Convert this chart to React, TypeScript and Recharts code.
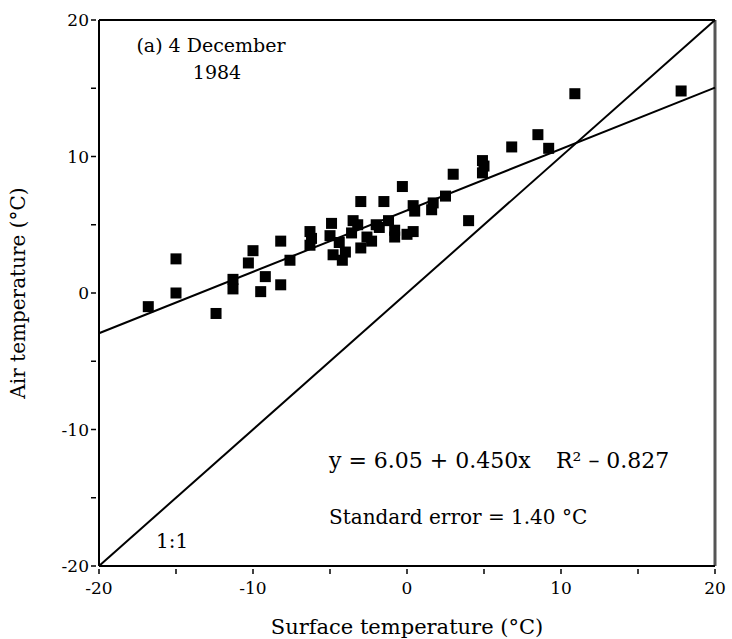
import {
    ScatterChart,
    Scatter,
    XAxis,
    YAxis,
    ReferenceLine,
    Label,
} from "recharts";

// surface temperature (x) vs air temperature (y), 4 December 1984
const surfaceTemp = [
    -16.8, -15.0, -15.0, -12.4, -11.3, -11.3, -10.3, -10.0, -9.5, -9.2,
    -8.2, -7.6, -8.2, -6.3, -6.3, -6.2, -4.9, -4.8, -4.4, -4.2,
    -3.6, -3.0, -3.2, -2.6, -3.0, -1.5, -1.2, -0.8, -0.8, -0.3,
    0.4, 0.5, 0.4, 1.7, 1.6, 2.5, 3.0, 4.0, 4.9, 4.9,
    5.0, 6.8, 8.5, 9.2, 10.9, 17.8, -4.0, -3.5, -2.0, -1.8,
    -2.3, -5.0, 0.0,
];
const airTemp = [
    -1.0, 2.5, 0.0, -1.5, 1.0, 0.3, 2.2, 3.1, 0.1, 1.2,
    0.6, 2.4, 3.8, 4.5, 3.5, 4.0, 5.1, 2.8, 3.7, 2.4,
    4.4, 6.7, 5.0, 4.1, 3.3, 6.7, 5.3, 4.1, 4.6, 7.8,
    6.4, 6.0, 4.5, 6.6, 6.1, 7.1, 8.7, 5.3, 9.7, 8.8,
    9.3, 10.7, 11.6, 10.6, 14.6, 14.8, 3.0, 5.3, 5.0, 4.8,
    3.8, 4.2, 4.3,
];

const oneToOneX = [-20, 20];
const oneToOneY = [-20, 20];
const fitX = [-20, 20];
const fitY = [-2.95, 15.05];

const axisTicks = [-20, -15, -10, -5, 0, 5, 10, 15, 20];

const points = surfaceTemp.map((x, i) => ({ x, y: airTemp[i] }));

const FONT = "'DejaVu Serif', 'Liberation Serif', serif";

function SquareDot(props: any) {
    const { cx, cy } = props;
    if (cx == null || cy == null) return null;
    return <rect x={cx - 5.5} y={cy - 5.5} width={11} height={11} fill="#000" />;
}

function XTick(props: any) {
    const { x, y, payload } = props;
    const v = payload.value;
    const major = v % 10 === 0;
    return (
        <g>
            <line x1={x} x2={x} y1={y} y2={y - 5} stroke="#000" strokeWidth={1.5} />
            {major && (
                <text x={x} y={y + 20} textAnchor="middle" fontFamily={FONT} fontSize={17} fill="#000">
                    {v}
                </text>
            )}
        </g>
    );
}

function YTick(props: any) {
    const { x, y, payload } = props;
    const v = payload.value;
    const major = v % 10 === 0;
    return (
        <g>
            <line x1={x} x2={x + 5} y1={y} y2={y} stroke="#000" strokeWidth={1.5} />
            {major && (
                <text x={x - 2} y={y + 6} textAnchor="end" fontFamily={FONT} fontSize={17} fill="#000">
                    {v}
                </text>
            )}
        </g>
    );
}

export default function App() {
    return (
        <div style={{ position: "absolute", left: 0, top: 0, width: 732, height: 639, background: "#fff" }}>
            <ScatterChart
                width={732}
                height={639}
                margin={{ top: 20, right: 17, left: 0, bottom: 0 }}
            >
                <XAxis
                    type="number"
                    dataKey="x"
                    domain={[-20, 20]}
                    ticks={axisTicks}
                    interval={0}
                    height={73}
                    tickLine={false}
                    tick={<XTick />}
                    axisLine={{ stroke: "#000", strokeWidth: 2 }}
                >
                    <Label
                        value="Surface temperature (°C)"
                        position="insideBottom"
                        offset={5}
                        style={{ fontFamily: FONT, fontSize: 21, fill: "#000" }}
                    />
                </XAxis>
                <YAxis
                    type="number"
                    dataKey="y"
                    domain={[-20, 20]}
                    ticks={axisTicks}
                    interval={0}
                    width={99}
                    tickLine={false}
                    tick={<YTick />}
                    axisLine={{ stroke: "#000", strokeWidth: 2 }}
                >
                    <Label
                        value="Air temperature (°C)"
                        angle={-90}
                        position="insideLeft"
                        offset={18}
                        style={{ fontFamily: FONT, fontSize: 20, fill: "#000", textAnchor: "middle" }}
                    />
                </YAxis>
                <ReferenceLine y={20} stroke="#000" strokeWidth={2} />
                <ReferenceLine x={20} stroke="#555" strokeWidth={3} />
                <ReferenceLine
                    segment={[
                        { x: oneToOneX[0], y: oneToOneY[0] },
                        { x: oneToOneX[1], y: oneToOneY[1] },
                    ]}
                    stroke="#000"
                    strokeWidth={2}
                />
                <ReferenceLine
                    segment={[
                        { x: fitX[0], y: fitY[0] },
                        { x: fitX[1], y: fitY[1] },
                    ]}
                    stroke="#000"
                    strokeWidth={2}
                />
                <Scatter data={points} shape={<SquareDot />} isAnimationActive={false} />
            </ScatterChart>
            <svg
                width={732}
                height={639}
                style={{ position: "absolute", left: 0, top: 0, pointerEvents: "none" }}
            >
                <g fontFamily={FONT} fill="#000">
                    <text x={211} y={52} textAnchor="middle" fontSize={19}>(a) 4 December</text>
                    <text x={217} y={79} textAnchor="middle" fontSize={19}>1984</text>
                    <text x={329} y={468} fontSize={22} xmlSpace="preserve">y = 6.05 + 0.450x</text>
                    <text x={556} y={468} fontSize={22} xmlSpace="preserve">R² – 0.827</text>
                    <text x={329} y={524} fontSize={20} xmlSpace="preserve">Standard error = 1.40 °C</text>
                    <text x={156} y={548} fontSize={20}>1:1</text>
                </g>
            </svg>
        </div>
    );
}
